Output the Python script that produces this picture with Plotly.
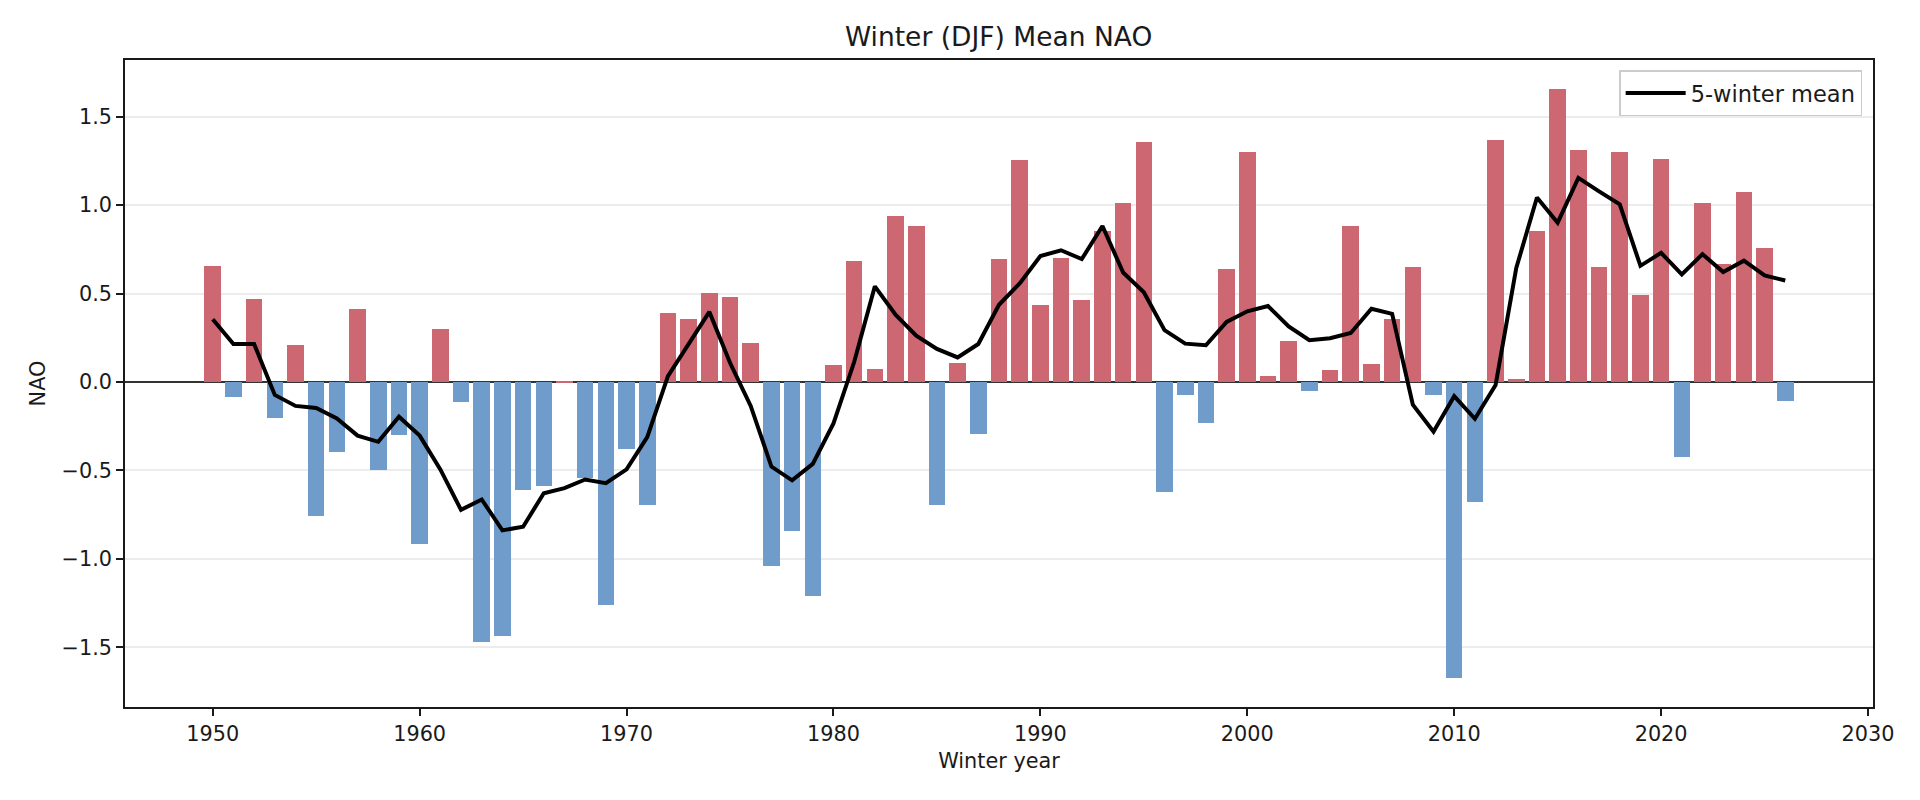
import plotly.graph_objects as go

years = list(range(1950, 2027))

nao = [
    0.657, -0.083, 0.470, -0.203, 0.210, -0.757, -0.395, 0.414, -0.496, -0.298,
    -0.915, 0.300, -0.111, -1.470, -1.435, -0.610, -0.586, 0.005, -0.541, -1.258,
    -0.381, -0.697, 0.392, 0.357, 0.506, 0.482, 0.222, -1.043, -0.844, -1.208,
    0.097, 0.686, 0.076, 0.941, 0.884, -0.697, 0.109, -0.296, 0.697, 1.258,
    0.433, 0.702, 0.466, 0.856, 1.014, 1.359, -0.619, -0.071, -0.229, 0.641,
    1.298, 0.035, 0.234, -0.052, 0.069, 0.884, 0.104, 0.357, 0.652, -0.076,
    -1.671, -0.676, 1.366, 0.019, 0.856, 1.655, 1.310, 0.652, 1.298, 0.494,
    1.262, -0.426, 1.014, 0.669, 1.076, 0.759, -0.109,
]

mean5 = [
    0.355, 0.215, 0.215, -0.073, -0.135, -0.147, -0.206, -0.303, -0.338, -0.196,
    -0.303, -0.494, -0.723, -0.664, -0.839, -0.818, -0.629, -0.600, -0.551, -0.572,
    -0.494, -0.312, 0.033, 0.215, 0.397, 0.109, -0.135, -0.478, -0.556, -0.463,
    -0.234, 0.113, 0.541, 0.381, 0.262, 0.187, 0.139, 0.215, 0.437, 0.558,
    0.712, 0.745, 0.695, 0.882, 0.619, 0.508, 0.293, 0.217, 0.208, 0.340,
    0.400, 0.430, 0.314, 0.236, 0.248, 0.277, 0.414, 0.385, -0.128, -0.281,
    -0.080, -0.208, -0.017, 0.645, 1.043, 0.901, 1.154, 1.078, 1.005, 0.657,
    0.730, 0.608, 0.723, 0.622, 0.686, 0.603, 0.574,
]

y_ticks = [-1.5, -1.0, -0.5, 0.0, 0.5, 1.0, 1.5]
x_ticks = [1950, 1960, 1970, 1980, 1990, 2000, 2010, 2020, 2030]

RED = "rgb(205,104,115)"
BLUE = "rgb(111,156,203)"
colors = [RED if v >= 0 else BLUE for v in nao]

FONT = "DejaVu Sans"
INK = "#1a1a1a"

fig = go.Figure()
fig.add_trace(go.Bar(
    x=years, y=nao, width=0.8, marker=dict(color=colors, line=dict(width=0)),
    showlegend=False, name="NAO",
))
fig.add_trace(go.Scatter(
    x=years, y=mean5, mode="lines", line=dict(color="black", width=4),
    name="5-winter mean",
))

fig.update_layout(
    width=1920, height=800,
    margin=dict(l=125, r=47, t=60, b=93),
    paper_bgcolor="white", plot_bgcolor="white",
    font=dict(family=FONT, size=20.8, color=INK),
    title=dict(text="Winter (DJF) Mean NAO", x=0.5201, xanchor="center",
               yref="container", y=1 - 36.5 / 800, yanchor="middle",
               font=dict(size=26.5, family=FONT, color=INK)),
    bargap=0,
    legend=dict(x=0.9938, xanchor="right", y=0.984, yanchor="top",
                itemwidth=60,
                bgcolor="rgba(255,255,255,0.8)", bordercolor="#cccccc", borderwidth=1.5,
                font=dict(size=22.5, family=FONT, color=INK)),
)

fig.update_xaxes(
    range=[1945.76, 2030.24], tickvals=x_ticks, ticktext=[str(t) for t in x_ticks],
    showgrid=False, zeroline=False,
    showline=True, linecolor=INK, linewidth=1.7, mirror=True,
    ticks="outside", ticklen=7, tickwidth=1.7, tickcolor=INK,
    tickfont=dict(size=20.8, family=FONT, color=INK),
    title=dict(text="Winter year", standoff=9, font=dict(size=20.8, family=FONT, color=INK)),
)
fig.update_yaxes(
    range=[-1.8375, 1.8208], tickvals=y_ticks, tickformat=".1f",
    showgrid=True, gridcolor="#ececec", gridwidth=1.5,
    zeroline=True, zerolinecolor="#333333", zerolinewidth=1.7,
    showline=True, linecolor=INK, linewidth=1.7, mirror=True,
    ticks="outside", ticklen=7, tickwidth=1.7, tickcolor=INK,
    tickfont=dict(size=20.8, family=FONT, color=INK),
    title=dict(text="NAO", standoff=10, font=dict(size=20.8, family=FONT, color=INK)),
)

fig.write_html("out.html", config={"displayModeBar": False},
               post_script="document.body.style.margin='0';document.body.style.overflow='hidden';")
